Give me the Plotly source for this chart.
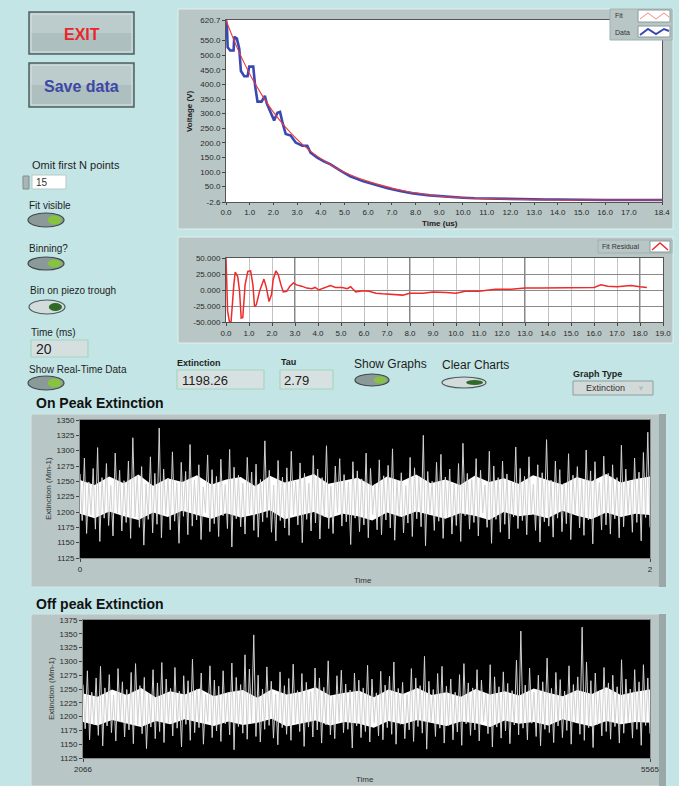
import plotly.graph_objects as go

# ---------------- data ----------------
decay_t = [0.0, 0.04, 0.07, 0.18, 0.32, 0.35, 0.46, 0.56, 0.63, 0.77, 0.91, 0.98, 1.15, 1.23, 1.33,
           1.5, 1.64, 1.72, 1.89, 2.03, 2.17, 2.28, 2.38, 2.52, 2.73, 2.94, 3.22, 3.43, 3.57, 3.85,
           4.13, 4.41, 4.83, 5.24, 5.8, 6.22, 6.78, 7.34, 7.9, 8.6, 9.0, 9.5, 10.0, 10.5, 11.0,
           11.5, 12.0, 12.5, 13.0, 13.5, 14.0, 14.5, 15.0, 15.5, 16.0, 16.5, 17.0, 17.5, 18.0, 18.4]
decay_v = [620, 600, 527, 516, 516, 563, 557, 522, 446, 428, 428, 461, 461, 394, 341,
           341, 361, 335, 303, 277, 303, 306, 271, 230, 225, 201, 190, 190, 166, 149,
           137, 126, 105, 85, 68, 58, 45, 35, 27, 20, 17, 14, 12, 10, 9,
           8, 7, 7, 6, 6, 6, 5, 5, 4, 4, 4, 4, 4, 4, 4]
fit_t = [0.0, 0.5, 1.0, 1.5, 2.0, 2.5, 3.0, 3.5, 4.0, 4.5, 5.0, 5.5, 6.0, 6.5, 7.0, 7.5,
         8.0, 8.5, 9.0, 10.0, 11.0, 12.0, 13.0, 14.0, 15.0, 16.0, 17.0, 18.4]
fit_v = [620, 520, 436, 366, 305, 255, 212, 176, 146, 121, 99, 82, 68, 56, 45, 36,
         28, 22, 17, 12, 9, 7, 5, 4, 4, 4, 4, 4]

resid_t = [0.0, 0.07, 0.15, 0.22, 0.34, 0.4, 0.51, 0.59, 0.66, 0.73, 0.83, 0.95, 1.07, 1.17, 1.24,
           1.32, 1.46, 1.57, 1.65, 1.76, 1.87, 1.98, 2.05, 2.17, 2.27, 2.39, 2.49, 2.64, 2.78, 2.93,
           3.07, 3.29, 3.51, 3.73, 3.88, 4.03, 4.25, 4.54, 4.76, 5.05, 5.27, 5.42, 5.64, 5.93, 6.22,
           6.52, 6.81, 7.25, 7.69, 7.98, 8.57, 9.0, 9.13, 9.56, 10.0, 10.4, 11.0, 11.7, 12.4, 13.0,
           13.7, 14.6, 15.2, 16.0, 16.3, 16.6, 17.0, 17.6, 18.0, 18.3]
resid_v = [50, -33, -50, -50, 8, 28, 21, -2, -44, -43, 8, 29, 30, 8, -26,
           -23, -2, 11, 17, 3, -18, -7, 16, 30, 24, 8, -3, -2, 6, 11,
           8, 6, 3, 2, 4, 0, 3, 7, 4, 4, 2, 5, -3, -1, -2,
           -5, -6, -7, -8, -5, -5, -3, -3, -4, -5, -2, -2, 1, 1, 3,
           3, 3, 4, 4, 8, 6, 5, 7, 5, 4]

on_hi = [1262, 1288, 1249, 1271, 1305, 1256, 1279, 1243, 1296, 1268,
         1251, 1283, 1321, 1259, 1274, 1246, 1290, 1263, 1337, 1270,
         1255, 1298, 1248, 1281, 1266, 1310, 1252, 1277, 1241, 1293,
         1269, 1258, 1286, 1245, 1302, 1273, 1260, 1247, 1289, 1265,
         1278, 1253, 1316, 1268, 1244, 1284, 1257, 1272, 1299, 1250,
         1280, 1263, 1247, 1292, 1270, 1256, 1308, 1242, 1275, 1287,
         1261, 1249, 1282, 1267, 1254, 1296, 1271, 1245, 1285, 1259,
         1276, 1303, 1252, 1264, 1243, 1289, 1272, 1258, 1325, 1266,
         1250, 1281, 1294, 1257, 1270, 1246, 1279, 1312, 1263, 1253,
         1287, 1268, 1244, 1299, 1275, 1256, 1283, 1262, 1249, 1306,
         1271, 1258, 1290, 1245, 1277, 1264, 1318, 1252, 1283, 1269,
         1247, 1295, 1260, 1274, 1253, 1301, 1267, 1282, 1248, 1291,
         1263, 1277, 1256, 1309, 1270, 1251, 1288, 1265, 1297, 1330]
on_lo = [1186, 1165, 1195, 1172, 1152, 1190, 1178, 1161, 1198, 1169,
         1183, 1157, 1192, 1175, 1146, 1188, 1166, 1180, 1158, 1196,
         1171, 1185, 1149, 1193, 1163, 1177, 1187, 1155, 1199, 1168,
         1181, 1160, 1194, 1173, 1143, 1189, 1176, 1164, 1197, 1170,
         1159, 1184, 1191, 1167, 1153, 1186, 1174, 1162, 1195, 1179,
         1150, 1188, 1169, 1182, 1156, 1192, 1173, 1165, 1199, 1177,
         1184, 1147, 1190, 1168, 1179, 1158, 1196, 1171, 1163, 1187,
         1174, 1154, 1193, 1166, 1182, 1160, 1189, 1176, 1145, 1197,
         1170, 1185, 1157, 1191, 1164, 1178, 1152, 1194, 1172, 1183,
         1161, 1198, 1175, 1149, 1188, 1167, 1180, 1156, 1192, 1173,
         1186, 1163, 1195, 1170, 1151, 1184, 1177, 1159, 1190, 1168,
         1181, 1155, 1197, 1174, 1162, 1187, 1148, 1193, 1171, 1179,
         1164, 1189, 1158, 1176, 1196, 1167, 1183, 1153, 1191, 1175]
on_core_hi = [1252, 1244, 1258, 1247, 1261, 1243, 1255, 1249, 1260, 1245,
              1253, 1257, 1242, 1259, 1248, 1254, 1262, 1246, 1251, 1256,
              1243, 1258, 1250, 1261, 1247, 1253, 1244, 1259, 1249, 1255,
              1246, 1260, 1252, 1245, 1257, 1250, 1262, 1248, 1254, 1258]
on_core_lo = [1197, 1190, 1201, 1193, 1187, 1199, 1192, 1202, 1195, 1189,
              1198, 1191, 1196, 1203, 1188, 1194, 1200, 1190, 1197, 1193,
              1186, 1199, 1192, 1201, 1195, 1189, 1198, 1194, 1187, 1200,
              1193, 1196, 1190, 1202, 1194, 1188, 1199, 1192, 1197, 1195]

off_hi = [1258, 1283, 1244, 1270, 1291, 1252, 1276, 1239, 1287, 1263,
          1249, 1280, 1296, 1256, 1271, 1242, 1285, 1261, 1298, 1268,
          1251, 1289, 1246, 1274, 1265, 1304, 1250, 1279, 1240, 1292,
          1266, 1255, 1283, 1243, 1297, 1271, 1258, 1312, 1286, 1348,
          1275, 1250, 1290, 1264, 1241, 1281, 1256, 1269, 1295, 1247,
          1278, 1262, 1245, 1288, 1270, 1253, 1301, 1239, 1274, 1284,
          1259, 1248, 1279, 1266, 1252, 1293, 1268, 1243, 1282, 1257,
          1273, 1299, 1251, 1262, 1240, 1287, 1270, 1256, 1309, 1264,
          1249, 1278, 1291, 1255, 1268, 1244, 1276, 1296, 1261, 1252,
          1285, 1266, 1242, 1294, 1272, 1254, 1281, 1260, 1247, 1302,
          1355, 1257, 1288, 1244, 1275, 1263, 1306, 1251, 1280, 1267,
          1246, 1292, 1258, 1272, 1362, 1299, 1265, 1279, 1247, 1289,
          1261, 1275, 1254, 1303, 1268, 1250, 1285, 1263, 1294, 1270]
off_lo = [1178, 1158, 1186, 1166, 1147, 1183, 1171, 1156, 1190, 1163,
          1176, 1151, 1185, 1169, 1142, 1181, 1160, 1173, 1153, 1188,
          1165, 1179, 1145, 1186, 1157, 1171, 1180, 1150, 1191, 1162,
          1174, 1155, 1187, 1167, 1140, 1182, 1170, 1159, 1189, 1164,
          1154, 1177, 1184, 1161, 1149, 1180, 1168, 1157, 1188, 1173,
          1146, 1181, 1163, 1176, 1152, 1185, 1167, 1160, 1191, 1171,
          1177, 1143, 1183, 1162, 1173, 1154, 1189, 1165, 1158, 1180,
          1168, 1150, 1186, 1160, 1176, 1155, 1182, 1170, 1141, 1190,
          1164, 1179, 1152, 1184, 1158, 1172, 1148, 1187, 1166, 1176,
          1156, 1191, 1169, 1145, 1181, 1161, 1174, 1151, 1185, 1167,
          1179, 1158, 1188, 1164, 1147, 1177, 1171, 1153, 1183, 1162,
          1175, 1150, 1190, 1168, 1157, 1180, 1144, 1186, 1165, 1173,
          1159, 1182, 1152, 1170, 1189, 1161, 1177, 1148, 1184, 1169]
off_core_hi = [1242, 1236, 1249, 1239, 1252, 1235, 1246, 1240, 1251, 1237,
               1244, 1248, 1234, 1250, 1240, 1245, 1253, 1238, 1243, 1247,
               1235, 1249, 1241, 1252, 1239, 1244, 1236, 1250, 1240, 1246,
               1238, 1251, 1243, 1237, 1248, 1241, 1253, 1239, 1245, 1249]
off_core_lo = [1190, 1184, 1194, 1187, 1181, 1192, 1186, 1195, 1189, 1183,
               1191, 1185, 1189, 1196, 1182, 1188, 1193, 1184, 1190, 1187,
               1180, 1192, 1186, 1194, 1189, 1183, 1191, 1188, 1181, 1193,
               1187, 1190, 1184, 1195, 1188, 1182, 1192, 1186, 1190, 1189]

decay_xticks = [0, 1, 2, 3, 4, 5, 6, 7, 8, 9, 10, 11, 12, 13, 14, 15, 16, 17, 18.4]
decay_xtext = ["0.0", "1.0", "2.0", "3.0", "4.0", "5.0", "6.0", "7.0", "8.0", "9.0", "10.0",
               "11.0", "12.0", "13.0", "14.0", "15.0", "16.0", "17.0", "18.4"]
decay_yticks = [-2.6, 50, 100, 150, 200, 250, 300, 350, 400, 450, 500, 550, 620.7]
decay_ytext = ["-2.6", "50.0", "100.0", "150.0", "200.0", "250.0", "300.0", "350.0", "400.0",
               "450.0", "500.0", "550.0", "620.7"]
resid_xticks = [0, 1, 2, 3, 4, 5, 6, 7, 8, 9, 10, 11, 12, 13, 14, 15, 16, 17, 18, 19]
resid_xtext = ["0.0", "1.0", "2.0", "3.0", "4.0", "5.0", "6.0", "7.0", "8.0", "9.0", "10.0",
               "11.0", "12.0", "13.0", "14.0", "15.0", "16.0", "17.0", "18.0", "19.0"]
resid_major = [3, 8, 13, 18]
resid_yticks = [-50, -25, 0, 25, 50]
resid_ytext = ["-50.000", "-25.000", "0.000", "25.000", "50.000"]
on_yticks = [1125, 1150, 1175, 1200, 1225, 1250, 1275, 1300, 1325, 1350]
off_yticks = [1125, 1150, 1175, 1200, 1225, 1250, 1275, 1300, 1325, 1350, 1375]
on_xtext = ["0", "2"]
off_xtext = ["2066", "5565"]

# ---------------- layout helpers ----------------
W, H = 679, 786
FONT = "Liberation Sans"
BG = "#c3e5e5"
FRAME = "#b9c6c6"


def px(x):
    return x / W


def py(y):
    return 1 - y / H


shapes = []
annotations = []


def rect(x0, y0, x1, y1, fill, line=None, lw=1, layer="below"):
    shapes.append(dict(type="rect", xref="paper", yref="paper",
                       x0=px(x0), x1=px(x1), y0=py(y1), y1=py(y0),
                       fillcolor=fill, layer=layer,
                       line=dict(color=line if line else fill, width=lw if line else 0)))


def oval(x0, y0, x1, y1, fill, line=None, lw=1, layer="above"):
    shapes.append(dict(type="circle", xref="paper", yref="paper",
                       x0=px(x0), x1=px(x1), y0=py(y1), y1=py(y0),
                       fillcolor=fill, layer=layer,
                       line=dict(color=line if line else fill, width=lw if line else 0)))


def path(pts, color, width, layer="above"):
    d = "M " + " L ".join(f"{px(a):.5f},{py(b):.5f}" for a, b in pts)
    shapes.append(dict(type="path", xref="paper", yref="paper", path=d, layer=layer,
                       line=dict(color=color, width=width)))


def txt(x, y, s, size=10, color="#222", bold=False, xanchor="left", angle=0, family=FONT):
    annotations.append(dict(x=px(x), y=py(y), xref="paper", yref="paper",
                            text=f"<b>{s}</b>" if bold else s, showarrow=False,
                            font=dict(size=size, color=color, family=family),
                            xanchor=xanchor, yanchor="middle", textangle=angle, borderpad=0))


def toggle(x0, y0, x1, y1, light=False):
    if light:
        oval(x0, y0, x1, y1, "#d3dbdb", "#4d5b5b", 1.2)
        oval(x0 + (x1 - x0) * 0.55, y0 + 3, x1 - 3, y1 - 3, "#2f6a2a")
    else:
        oval(x0, y0, x1, y1, "#8c9999", "#3e4a4a", 1.2)
        oval(x0 + (x1 - x0) * 0.55, y0 + 2.5, x1 - 2.5, y1 - 2.5, "#86c440")


def button(x0, y0, x1, y1, label, color):
    rect(x0, y0, x1, y1, "#aebfbf", "#4f6162", 1.5, layer="above")
    rect(x0 + 2, y0 + 2, x1 - 2, (y0 + y1) / 2, "#bccccc", layer="above")
    rect(x0 + 2, y0 + 2, x1 - 2, y1 - 2, "rgba(0,0,0,0)", "#d8e6e6", 1, layer="above")
    txt((x0 + x1) / 2, (y0 + y1) / 2 + 1, label, 16, color, True, "center")


# ---------------- panels ----------------
rect(178, 9, 673, 229, FRAME, "#e2efef", 1)
rect(226, 20, 662, 202, "#ffffff")
rect(178, 237, 673, 343, FRAME, "#e2efef", 1)
rect(226, 258, 663, 322, "#ffffff")
rect(31, 414, 666, 587, FRAME, "#d5e3e3", 1)
rect(659, 414, 666, 587, "#9aa8a8")
rect(80, 420, 650, 558, "#000000")
rect(31, 614, 666, 786, FRAME, "#d5e3e3", 1)
rect(659, 614, 666, 786, "#9aa8a8")
rect(83, 620, 650, 758, "#000000")

# darker residual grid lines
for v in resid_major:
    shapes.append(dict(type="line", xref="x2", yref="y2 domain", x0=v, x1=v, y0=0, y1=1,
                       line=dict(color="#3a3a3a", width=1.2), layer="below"))

# legends
rect(610, 9, 672, 40, FRAME, "#9fb0b0", 1, layer="above")
rect(638, 10, 670, 22, "#ffffff", "#8a9a9a", 1, layer="above")
rect(638, 26, 670, 37, "#ffffff", "#8a9a9a", 1, layer="above")
path([(640, 19), (648, 13), (656, 19), (664, 13), (669, 17)], "#f08888", 1)
path([(640, 35), (648, 29), (656, 34), (664, 29), (669, 31)], "#3a48b4", 2)
txt(614, 16, "Fit", 7, "#333")
txt(614, 32, "Data", 7, "#333")
rect(598, 240, 672, 253, FRAME, "#9fb0b0", 1, layer="above")
rect(650, 241, 670, 252, "#ffffff", "#8a9a9a", 1, layer="above")
path([(652, 250), (660, 243), (668, 250)], "#ee2a2a", 1.5)
txt(601, 246.5, "Fit Residual", 7, "#333")

# ---------------- controls ----------------
button(29, 12, 134, 54, "EXIT", "#e8262b")
button(29, 63, 134, 107, "Save data", "#3d47a6")

txt(31, 165, "Omit first N points", 11, "#1e1e1e")
rect(23, 176, 29, 189, "#aab6b6", "#7f8d8d", 1, layer="above")
rect(32, 175, 66, 189, "#ffffff", "#b8c8c8", 1, layer="above")
txt(35, 182.5, "15", 10, "#333")

txt(28, 206, "Fit visible", 10, "#1e1e1e")
toggle(28, 213, 64, 227)
txt(28, 249, "Binning?", 10, "#1e1e1e")
toggle(28, 257, 64, 270)
txt(29, 290, "Bin on piezo trough", 10, "#1e1e1e")
toggle(29, 300, 65, 314, light=True)
txt(30, 332, "Time (ms)", 10, "#1e1e1e")
rect(31, 340, 88, 357, "#d6dfdf", "#a5d6c0", 1.2, layer="above")
txt(35, 349, "20", 14, "#222")
txt(28, 370, "Show Real-Time Data", 10, "#1e1e1e")
toggle(28, 376, 64, 390)

txt(176, 363, "Extinction", 9, "#1e1e1e", True)
rect(177, 370, 264, 389, "#d8e1e1", "#a5d6c0", 1.2, layer="above")
txt(181, 380, "1198.26", 13, "#222")
txt(280, 362, "Tau", 9, "#1e1e1e", True)
rect(280, 370, 333, 389, "#d8e1e1", "#a5d6c0", 1.2, layer="above")
txt(283, 380, "2.79", 13, "#222")
txt(353, 364, "Show Graphs", 12, "#1e1e1e")
toggle(355, 374, 389, 386)
txt(441, 365, "Clear Charts", 12, "#1e1e1e")
toggle(442, 377, 486, 388, light=True)
txt(572, 374, "Graph Type", 9, "#1e1e1e", True)
rect(573, 381, 653, 395, "#d2d9d9", "#8e9d9d", 1, layer="above")
txt(585, 388, "Extinction", 9, "#333")
txt(641, 388, "▼", 8, "#b5bfbf", xanchor="center")

txt(35, 403, "On Peak Extinction", 14, "#111", True)
txt(35, 604, "Off peak Extinction", 14, "#111", True)

# axis titles
txt(190, 111, "Voltage (V)", 8, "#222", True, "center", -90)
txt(440, 223.5, "Time (us)", 8, "#222", True, "center")
txt(48, 489, "Extinction (Mm-1)", 8, "#333", False, "center", -90)
txt(363, 580, "Time", 8, "#333", False, "center")
txt(51, 689, "Extinction (Mm-1)", 8, "#333", False, "center", -90)
txt(365, 779, "Time", 8, "#333", False, "center")

# ---------------- traces ----------------
fig = go.Figure()
fig.add_trace(go.Scatter(x=decay_t, y=decay_v, mode="lines", line=dict(color="#3a48b4", width=2.6),
                         xaxis="x", yaxis="y", hoverinfo="skip"))
fig.add_trace(go.Scatter(x=fit_t, y=fit_v, mode="lines", line=dict(color="#ea3a3a", width=1.1, shape="spline"),
                         xaxis="x", yaxis="y", hoverinfo="skip"))
fig.add_trace(go.Scatter(x=resid_t, y=resid_v, mode="lines", line=dict(color="#ee2a2a", width=1.5),
                         xaxis="x2", yaxis="y2", hoverinfo="skip"))


def noise_traces(hi, lo, core_hi, core_lo, xa, ya):
    ys = [v for pair in zip(hi, lo) for v in pair]
    xs = list(range(len(ys)))
    n = len(core_hi)
    xc = [i * (len(ys) - 1) / (n - 1) for i in range(n)]
    fig.add_trace(go.Scatter(x=xc, y=core_lo, mode="lines", line=dict(width=0, color="#ffffff"),
                             xaxis=xa, yaxis=ya, hoverinfo="skip"))
    fig.add_trace(go.Scatter(x=xc, y=core_hi, mode="lines", line=dict(width=0, color="#ffffff"),
                             fill="tonexty", fillcolor="#ffffff", xaxis=xa, yaxis=ya, hoverinfo="skip"))
    fig.add_trace(go.Scatter(x=xs, y=ys, mode="lines", line=dict(color="#d2d2d2", width=1),
                             xaxis=xa, yaxis=ya, hoverinfo="skip"))
    return len(ys) - 1


n_on = noise_traces(on_hi, on_lo, on_core_hi, on_core_lo, "x3", "y3")
n_off = noise_traces(off_hi, off_lo, off_core_hi, off_core_lo, "x4", "y4")

tickfont = dict(family=FONT, size=8, color="#2a2a2a")
common = dict(showgrid=False, zeroline=False, showline=True, linecolor="#555", mirror=True,
              ticks="outside", ticklen=3, tickcolor="#444", tickfont=tickfont, fixedrange=True,
              automargin=False)

fig.update_layout(
    width=W, height=H, autosize=False,
    margin=dict(l=0, r=0, t=0, b=0, pad=0, autoexpand=False),
    paper_bgcolor=BG, plot_bgcolor="rgba(0,0,0,0)", showlegend=False,
    shapes=shapes, annotations=annotations,
    xaxis=dict(domain=[px(226), px(662)], range=[0, 18.4], tickvals=decay_xticks,
               ticktext=decay_xtext, anchor="y", **{**common, "ticklen": 2}),
    yaxis=dict(domain=[py(202), py(20)], range=[-2.6, 620.7], tickvals=decay_yticks,
               ticktext=decay_ytext, anchor="x", **common),
    xaxis2=dict(domain=[px(226), px(663)], range=[0, 19], tickvals=resid_xticks,
                ticktext=resid_xtext, anchor="y2",
                **{**common, "showgrid": True, "gridcolor": "#c4c4c4", "gridwidth": 1}),
    yaxis2=dict(domain=[py(322), py(258)], range=[-50, 50], tickvals=resid_yticks,
                ticktext=resid_ytext, anchor="x2",
                **{**common, "showgrid": True, "gridcolor": "#8a8a8a", "gridwidth": 1}),
    xaxis3=dict(domain=[px(80), px(650)], range=[0, n_on], tickvals=[0, n_on],
                ticktext=on_xtext, anchor="y3", **{**common, "linecolor": "#888"}),
    yaxis3=dict(domain=[py(558), py(420)], range=[1125, 1350], tickvals=on_yticks,
                anchor="x3", **{**common, "linecolor": "#888"}),
    xaxis4=dict(domain=[px(83), px(650)], range=[0, n_off], tickvals=[0, n_off],
                ticktext=off_xtext, anchor="y4", **{**common, "linecolor": "#888"}),
    yaxis4=dict(domain=[py(758), py(620)], range=[1125, 1375], tickvals=off_yticks,
                anchor="x4", **{**common, "linecolor": "#888"}),
)

fig.write_html(
    "out.html", config={"displayModeBar": False},
    post_script=(
        "document.documentElement.style.margin='0';document.documentElement.style.overflow='hidden';"
        "document.body.style.margin='0';document.body.style.padding='0';document.body.style.overflow='hidden';"
        "var g=document.getElementById('{plot_id}');g.style.position='fixed';g.style.left='0px';g.style.top='0px';"
    ),
)
